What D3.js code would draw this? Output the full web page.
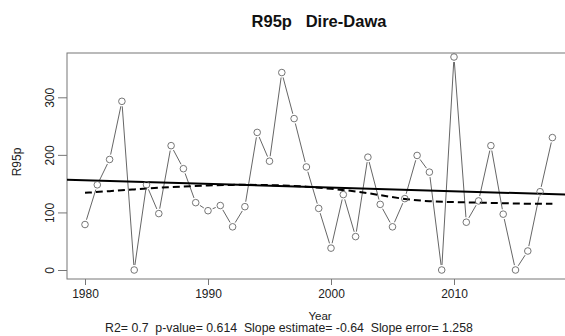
<!DOCTYPE html>
<html>
<head>
<meta charset="utf-8">
<script src="https://cdn.jsdelivr.net/npm/d3@7"></script>
<style>
body{margin:0;background:#fff;}
text{font-family:"Liberation Sans",Arial,sans-serif;white-space:pre;}
</style>
</head>
<body>
<svg id="chart" width="565" height="336"></svg>
<script>
// yearly R95p values
var years=[];
for(var yr=1980;yr<=2018;yr++) years.push(yr);
var r95p=[79,148,192,293,0,148,98,216,176,117,103,112,75,110,239,189,343,263,179,107,38,131,58,196,114,75,124,199,170,0,370,83,120,216,97,0,33,136,230];
// smoothed (dashed) curve read every two years
var smoothYears=[1980,1982,1984,1986,1988,1990,1992,1994,1996,1998,2000,2002,2004,2006,2008,2010,2012,2014,2016,2018];
var smoothVals=[134,137,140,143,145,147,148,148,147,145,141,137,130,123,119,118,117,116,115,115];
// linear trend
var trendStartYear=1978.5, trendStartVal=157, trendSlope=-0.64;
var yTicks=[0,100,200,300];
var xTicks=[1980,1990,2000,2010];
var title="R95p   Dire-Dawa";
var statsText="R2= 0.7  p-value= 0.614  Slope estimate= -0.64  Slope error= 1.258";

var svg=d3.select("#chart");
var pLeft=67,pRight=580,pTop=53,pBottom=279;

var x=d3.scaleLinear().domain([1980,2010]).range([85,454]);
var y=d3.scaleLinear().domain([0,300]).range([270,97.3]);

// frame
svg.append("rect").attr("x",pLeft).attr("y",pTop).attr("width",pRight-pLeft).attr("height",pBottom-pTop)
	.attr("fill","none").attr("stroke","#777").attr("stroke-width",1);

// y axis
var yAxis=svg.append("g").attr("transform","translate("+pLeft+",0)")
	.call(d3.axisLeft(y).tickValues(yTicks).tickSize(9).tickPadding(5));
yAxis.select(".domain").remove();
yAxis.selectAll("line").attr("stroke","#777");
yAxis.selectAll("text").attr("font-size",12).attr("fill","#222")
	.attr("x",0).attr("y",0).attr("dy",null)
	.attr("transform","translate(-13,0) rotate(-90)")
	.attr("text-anchor","middle");

// x axis
var xAxis=svg.append("g").attr("transform","translate(0,"+pBottom+")")
	.call(d3.axisBottom(x).tickValues(xTicks).tickFormat(d3.format("d")).tickSize(6).tickPadding(4));
xAxis.select(".domain").remove();
xAxis.selectAll("line").attr("stroke","#777");
xAxis.selectAll("text").attr("font-size",12).attr("fill","#222");

// clip
svg.append("clipPath").attr("id","clip").append("rect")
	.attr("x",pLeft).attr("y",pTop).attr("width",pRight-pLeft).attr("height",pBottom-pTop);
var plot=svg.append("g").attr("clip-path","url(#clip)");

// connecting lines with gaps at points (R type="b")
var gap=5;
for(var i=0;i<years.length-1;i++){
	var x1=x(years[i]),y1=y(r95p[i]),x2=x(years[i+1]),y2=y(r95p[i+1]);
	var len=Math.sqrt(Math.pow(x2-x1,2)+Math.pow(y2-y1,2));
	if(len<=2*gap) continue;
	var ux=(x2-x1)/len,uy=(y2-y1)/len;
	plot.append("line").attr("x1",x1+ux*gap).attr("y1",y1+uy*gap)
		.attr("x2",x2-ux*gap).attr("y2",y2-uy*gap)
		.attr("stroke","#666").attr("stroke-width",1);
}

// trend line
var trendEnd=x.invert(pRight);
plot.append("line").attr("x1",x(trendStartYear)).attr("y1",y(trendStartVal))
	.attr("x2",x(trendEnd)).attr("y2",y(trendStartVal+trendSlope*(trendEnd-trendStartYear)))
	.attr("stroke","#000").attr("stroke-width",2);

// smoothed dashed line
var smoothData=smoothYears.map(function(d,i){return [d,smoothVals[i]];});
plot.append("path").datum(smoothData)
	.attr("d",d3.line().x(function(d){return x(d[0]);}).y(function(d){return y(d[1]);}).curve(d3.curveBasis))
	.attr("fill","none").attr("stroke","#000").attr("stroke-width",2).attr("stroke-dasharray","7,4");

// points
plot.selectAll("circle.pt").data(years).enter().append("circle").attr("class","pt")
	.attr("cx",function(d){return x(d);}).attr("cy",function(d,i){return y(r95p[i]);})
	.attr("r",3.3).attr("fill","none").attr("stroke","#666").attr("stroke-width",0.9);

// texts
svg.append("text").attr("x",319).attr("y",27).attr("text-anchor","middle")
	.attr("font-size",16.5).attr("font-weight","bold").attr("fill","#111").text(title);
svg.append("text").attr("transform","translate(21,162) rotate(-90)").attr("text-anchor","middle")
	.attr("font-size",12).attr("fill","#222").text("R95p");
svg.append("text").attr("x",320).attr("y",320).attr("text-anchor","middle")
	.attr("font-size",11.5).attr("fill","#222").text("Year");
svg.append("text").attr("x",289).attr("y",332).attr("text-anchor","middle")
	.attr("font-size",12.3).attr("fill","#222").text(statsText);
</script>
</body>
</html>
